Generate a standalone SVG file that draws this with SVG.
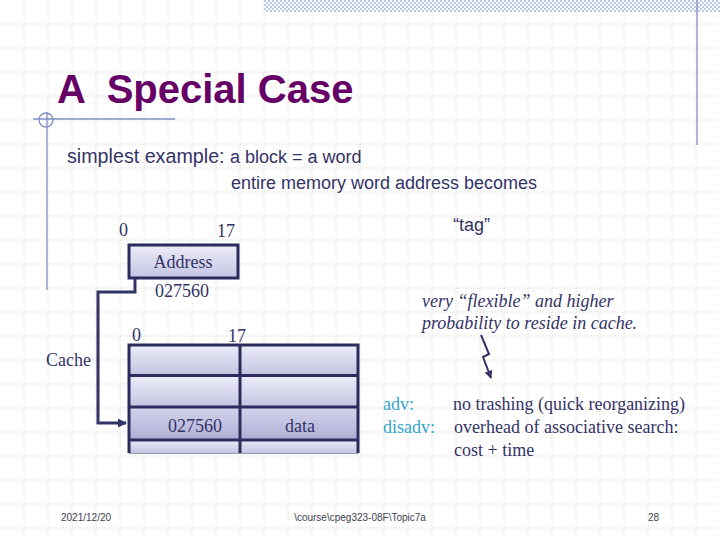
<svg xmlns="http://www.w3.org/2000/svg" width="720" height="540" viewBox="0 0 720 540">
<style>
.grid{stroke:#cfcfcf;stroke-width:1;stroke-dasharray:1 2;fill:none}
.deco{stroke:#7f8fc4;stroke-width:1.3;fill:none}
.sans{font-family:"Liberation Sans",Arial,sans-serif;fill:#333366}
.serif{font-family:"Liberation Serif","Times New Roman",serif;fill:#333366;font-size:18px}
.box{stroke:#2b2b5e;stroke-width:3}
.conn{stroke:#333366;stroke-width:3;fill:none}
.foot{font-family:"Liberation Sans",Arial,sans-serif;font-size:10px;fill:#404050}
.cyan{fill:#33a8cc}
</style>
<defs>
<pattern id="chk" width="4" height="4" patternUnits="userSpaceOnUse">
<rect width="4" height="4" fill="#ffffff"/>
<rect width="2" height="2" fill="#b9c9ea"/>
<rect x="2" y="2" width="2" height="2" fill="#b9c9ea"/>
</pattern>
<linearGradient id="cell" x1="0" y1="0" x2="0" y2="1">
<stop offset="0" stop-color="#ececf8"/>
<stop offset="1" stop-color="#c4c4e2"/>
</linearGradient>
<linearGradient id="cellDark" x1="0" y1="0" x2="0" y2="1">
<stop offset="0" stop-color="#d4d4ec"/>
<stop offset="1" stop-color="#aeaed6"/>
</linearGradient>
<marker id="arr" viewBox="0 0 10 10" refX="9" refY="5" markerWidth="3" markerHeight="3" orient="auto">
<path d="M0,0 L10,5 L0,10 z" fill="#333366"/>
</marker>
<marker id="arr2" viewBox="0 0 10 10" refX="9" refY="5" markerWidth="4" markerHeight="4" orient="auto">
<path d="M0,0 L10,5 L0,10 z" fill="#333366"/>
</marker>
</defs>
<rect width="720" height="540" fill="#ffffff"/>
<g id="grid" class="grid">
<path d="M24,0V540M48,0V540M72,0V540M96,0V540M120,0V540M144,0V540M168,0V540M192,0V540M216,0V540M240,0V540M264,0V540M288,0V540M312,0V540M336,0V540M360,0V540M384,0V540M408,0V540M432,0V540M456,0V540M480,0V540M504,0V540M528,0V540M552,0V540M576,0V540M600,0V540M624,0V540M648,0V540M672,0V540M696,0V540"/>
<path d="M0,24H720M0,48H720M0,72H720M0,96H720M0,120H720M0,144H720M0,168H720M0,192H720M0,216H720M0,240H720M0,264H720M0,288H720M0,312H720M0,336H720M0,360H720M0,384H720M0,408H720M0,432H720M0,456H720M0,480H720M0,504H720M0,528H720"/>
</g>
<g id="decoration">
<rect x="264" y="0" width="456" height="12" fill="url(#chk)"/>
<line class="deco" x1="697" y1="0" x2="697" y2="145"/>
<line class="deco" x1="33" y1="119" x2="175" y2="119"/>
<line class="deco" x1="47" y1="112" x2="47" y2="290"/>
<circle class="deco" cx="46" cy="120" r="7"/>
</g>
<g id="title">
<text x="57" y="103" font-family="Liberation Sans,Arial,sans-serif" font-weight="bold" font-size="40" fill="#660066" xml:space="preserve">A  Special Case</text>
</g>
<g id="intro">
<text class="sans" x="67" y="163"><tspan font-size="19.7">simplest example: </tspan><tspan font-size="18">a block = a word</tspan></text>
<text class="sans" x="231" y="189" font-size="18">entire memory word address becomes</text>
<text class="sans" x="453" y="231" font-size="18">“tag”</text>
</g>
<g id="address">
<text class="serif" x="119" y="236">0</text>
<text class="serif" x="217" y="237">17</text>
<rect class="box" x="129" y="245" width="109" height="33" fill="url(#cell)"/>
<text class="serif" x="183" y="268" text-anchor="middle">Address</text>
<text class="serif" x="182" y="297" text-anchor="middle">027560</text>
</g>
<g id="cache">
<text class="serif" x="46" y="366" font-size="17">Cache</text>
<text class="serif" x="132" y="341">0</text>
<text class="serif" x="228" y="342">17</text>
<rect x="129" y="345" width="111" height="30" fill="url(#cell)"/>
<rect x="240" y="345" width="118" height="30" fill="url(#cell)"/>
<rect x="129" y="376" width="111" height="31" fill="url(#cell)"/>
<rect x="240" y="376" width="118" height="31" fill="url(#cell)"/>
<rect x="129" y="407" width="111" height="33" fill="url(#cellDark)"/>
<rect x="240" y="407" width="118" height="33" fill="url(#cellDark)"/>
<rect x="129" y="440" width="111" height="13" fill="url(#cell)"/>
<rect x="240" y="440" width="118" height="13" fill="url(#cell)"/>
<path class="box" fill="none" d="M129,453V345H358V453M129,375.5H358M129,407H358M129,440H358M240,345V453"/>
<line x1="129" y1="453.5" x2="358" y2="453.5" stroke="#9a9ab0" stroke-width="1"/>
<text class="serif" x="195" y="432" text-anchor="middle">027560</text>
<text class="serif" x="300" y="432" text-anchor="middle">data</text>
</g>
<g id="notes">
<text class="serif" x="422" y="307" font-size="16.3" font-style="italic">very “flexible” and higher</text>
<text class="serif" x="422" y="329" font-size="16.3" font-style="italic">probability to reside in cache.</text>
<text class="serif cyan" x="383" y="410">adv:</text>
<text class="serif" x="453" y="410">no trashing (quick reorganizing)</text>
<text class="serif cyan" x="383" y="433">disadv:</text>
<text class="serif" x="454" y="433">overhead of associative search:</text>
<text class="serif" x="454" y="456">cost + time</text>
</g>
<g id="connectors">
<path class="conn" d="M135,279V292H98V423H126" marker-end="url(#arr)"/>
<path d="M481,335L489,354L483,357L491,378" stroke="#333366" stroke-width="2" fill="none" marker-end="url(#arr2)"/>
</g>
<g id="footer">
<text class="foot" x="61" y="521">2021/12/20</text>
<text class="foot" x="360" y="521" text-anchor="middle">\course\cpeg323-08F\Topic7a</text>
<text class="foot" x="648" y="521">28</text>
</g>
</svg>
